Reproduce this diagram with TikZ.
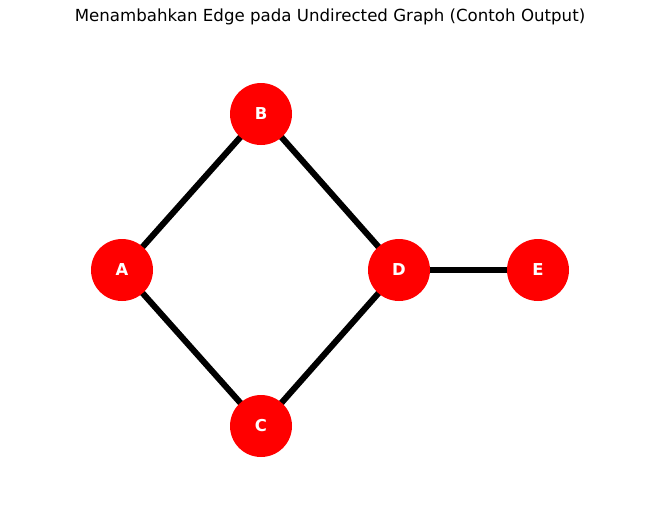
\documentclass[tikz,border=0pt]{standalone}
\usepackage{fontspec}
\setmainfont{DejaVu Sans}
\pgfdeclarelayer{fundo}
\pgfsetlayers{fundo,main}
\begin{document}
\begin{tikzpicture}[x=0.03cm, y=-0.03cm]
  % --- parâmetros ---
  \def\rr{31} % raio dos vértices (px)
  \tikzset{
    vertice/.style={circle, fill=red, draw=none, minimum size=2*\rr*0.03cm,
      inner sep=0pt, text=white, font=\fontsize{14}{16}\selectfont\bfseries},
    aresta/.style={line width=5.2pt}
  }

  % área da figura
  \useasboundingbox (0,0) rectangle (660,520);

  % título
  \node (titulo) at (330,17) {\fontsize{14.2}{17}\selectfont Menambahkan Edge pada Undirected Graph (Contoh Output)};

  % vértices
  \node[vertice] (A) at (122,270) {A};
  \node[vertice] (B) at (261,114) {B};
  \node[vertice] (C) at (261,426) {C};
  \node[vertice] (D) at (399,270) {D};
  \node[vertice] (E) at (538,270) {E};

  % arestas (por baixo dos vértices)
  \begin{pgfonlayer}{fundo}
    \foreach \u/\v in {A/B, A/C, B/D, C/D, D/E}
      \draw[aresta] (\u.center) -- (\v.center);
  \end{pgfonlayer}
\end{tikzpicture}
\end{document}
